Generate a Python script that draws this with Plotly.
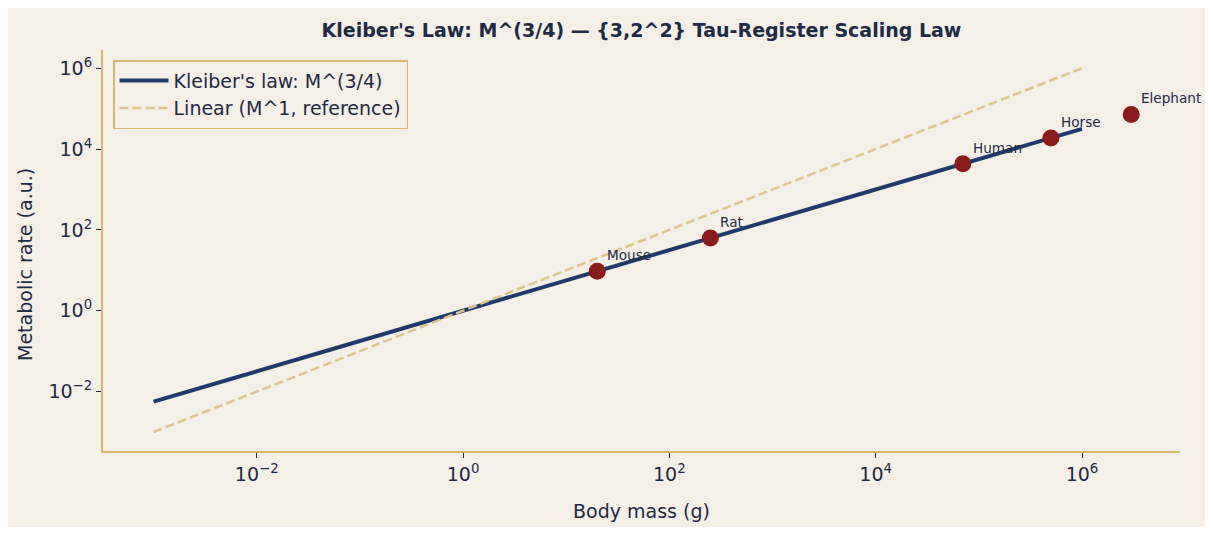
import math
import plotly.graph_objects as go

# ---- data ----
line_mass = [1e-3, 1e6]
kleiber_rate = [0.005623, 31623.0]
linear_rate = [1e-3, 1e6]

animals = ["Mouse", "Rat", "Human", "Horse", "Elephant"]
animal_mass = [20, 250, 70000, 500000, 3000000]
animal_rate = [9.46, 62.9, 4305, 18803, 71950]

x_tickvals = [1e-2, 1, 1e2, 1e4, 1e6]
x_ticktext = ["10<sup>−2</sup>", "10<sup>0</sup>", "10<sup>2</sup>", "10<sup>4</sup>", "10<sup>6</sup>"]
y_tickvals = [1e-2, 1, 1e2, 1e4, 1e6]
y_ticktext = ["10<sup>−2</sup>", "10<sup>0</sup>", "10<sup>2</sup>", "10<sup>4</sup>", "10<sup>6</sup>"]

NAVY = "#1f3b6b"
TAN = "#dcc68e"
RED = "#8b1a1a"
TEXT = "#1f2a44"
BG = "#f4f0e8"
SPINE = "#d6b86e"
FONT = "DejaVu Sans"

W, H = 1205, 525  # page body adds an 8px offset

fig = go.Figure()
fig.add_trace(go.Scatter(x=line_mass, y=kleiber_rate, mode="lines",
                         line=dict(color=NAVY, width=4),
                         name="Kleiber's law: M^(3/4)"))
fig.add_trace(go.Scatter(x=line_mass, y=linear_rate, mode="lines",
                         line=dict(color=TAN, width=2.5, dash="9px,4px"),
                         name="Linear (M^1, reference)"))
fig.add_trace(go.Scatter(x=animal_mass, y=animal_rate, mode="markers",
                         marker=dict(color=RED, size=17),
                         showlegend=False))

for name, m, r in zip(animals, animal_mass, animal_rate):
    fig.add_annotation(x=math.log10(m), y=math.log10(r), xref="x", yref="y",
                       text=name, showarrow=False,
                       xanchor="left", yanchor="bottom",
                       xshift=8, yshift=6,
                       font=dict(family=FONT, size=13.6, color=TEXT))

# y-axis title as annotation (positioned as in the reference)
fig.add_annotation(x=-0.0724, y=0.464, xref="paper", yref="paper",
                   text="Metabolic rate (a.u.)", textangle=-90, showarrow=False,
                   xanchor="center", yanchor="middle",
                   font=dict(family=FONT, size=19, color=TEXT))

# beige card with thin white border
fig.add_shape(type="rect", xref="paper", yref="paper",
              x0=-0.0882, x1=1.0251, y0=-0.1895, y1=1.1047,
              fillcolor=BG, line=dict(width=0), layer="below")

fig.update_layout(
    width=W, height=H,
    paper_bgcolor="white", plot_bgcolor=BG,
    margin=dict(l=95, r=33, t=42, b=82),
    font=dict(family=FONT, color=TEXT),
    title=dict(text="<b>Kleiber's Law: M^(3/4) — {3,2^2} Tau-Register Scaling Law</b>",
               x=0.5, xref="paper", xanchor="center", y=0.958, yanchor="middle",
               font=dict(family=FONT, size=19, color=TEXT)),
    legend=dict(x=0.0093, y=0.975, xanchor="left", yanchor="top",
                bgcolor=BG, bordercolor=SPINE, borderwidth=1.5,
                itemwidth=49,
                font=dict(family=FONT, size=19, color=TEXT)),
    showlegend=True,
)

fig.update_xaxes(type="log", range=[-3.49, 6.95],
                 tickvals=x_tickvals, ticktext=x_ticktext,
                 showgrid=False, zeroline=False,
                 showline=True, linecolor=SPINE, linewidth=2,
                 ticks="outside", ticklen=5, tickcolor=TEXT,
                 tickfont=dict(family=FONT, size=19, color=TEXT),
                 title=dict(text="Body mass (g)", standoff=21,
                            font=dict(family=FONT, size=19, color=TEXT)))
fig.update_yaxes(type="log", range=[-3.47, 6.45],
                 tickvals=y_tickvals, ticktext=y_ticktext,
                 showgrid=False, zeroline=False,
                 showline=True, linecolor=SPINE, linewidth=2,
                 ticks="outside", ticklen=5, tickcolor=TEXT,
                 tickfont=dict(family=FONT, size=19, color=TEXT))

fig.write_html("out.html")
